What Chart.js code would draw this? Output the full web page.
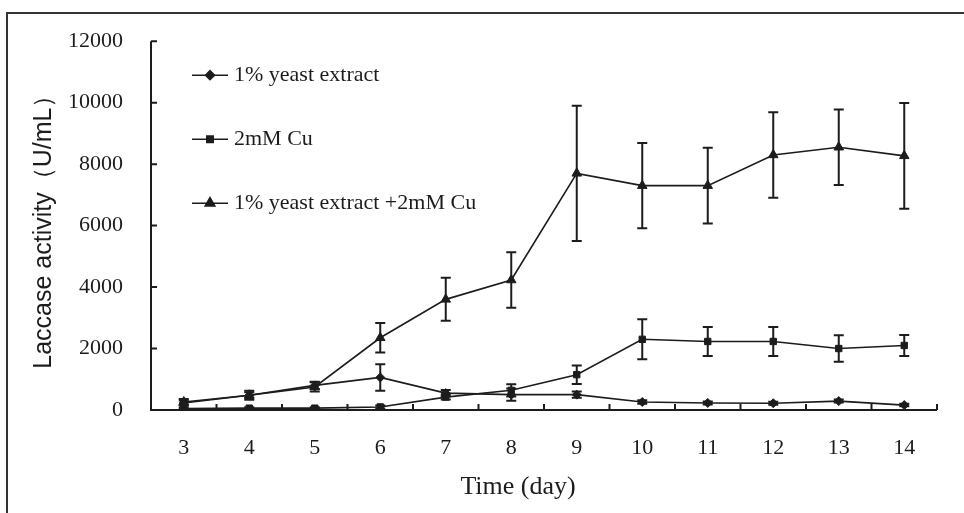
<!DOCTYPE html>
<html>
<head>
<meta charset="utf-8">
<script src="https://cdn.jsdelivr.net/npm/chart.js@4.4.1/dist/chart.umd.min.js"></script>
<style>
  html, body { margin: 0; padding: 0; background: #fff; }
  #wrap { width: 964px; height: 513px; position: relative; }
</style>
</head>
<body>
<div id="wrap"><canvas id="laccaseChart" width="964" height="513"></canvas></div>
<script>
// Days on the x axis
const days = ['3', '4', '5', '6', '7', '8', '9', '10', '11', '12', '13', '14'];

// Laccase activity (U/mL)
const yeastValues = [230, 480, 800, 1060, 550, 500, 500, 260, 230, 220, 290, 160];
const yeastErrors = [80, 100, 120, 430, 100, 200, 100, 60, 50, 50, 50, 40];

const cuValues = [50, 60, 60, 100, 420, 640, 1150, 2300, 2230, 2230, 2000, 2100];
const cuErrors = [30, 30, 30, 50, 80, 200, 300, 650, 470, 470, 430, 340];

const mixValues = [260, 480, 750, 2350, 3600, 4230, 7700, 7300, 7300, 8300, 8550, 8270];
const mixErrors = [100, 150, 150, 480, 700, 900, 2200, 1390, 1230, 1390, 1230, 1720];

const yTicks = [0, 2000, 4000, 6000, 8000, 10000, 12000];

const seriesNames = ['1% yeast extract', '2mM Cu', '1% yeast extract +2mM Cu'];
const seriesErrors = [yeastErrors, cuErrors, mixErrors];

const ink = '#1c1c1c';
const serif = "'Liberation Serif', 'Times New Roman', serif";

// error bars, inner ticks, frame, legend and x title
const extrasPlugin = {
    id: 'extras',
    beforeDraw(chart) {
        const c = chart.ctx;
        c.save();
        c.fillStyle = '#fff';
        c.fillRect(0, 0, chart.width, chart.height);
        // outer frame (top and left edges visible)
        c.strokeStyle = '#333';
        c.lineWidth = 2;
        c.beginPath();
        c.moveTo(7, chart.height);
        c.lineTo(7, 13);
        c.lineTo(chart.width, 13);
        c.stroke();
        c.restore();
    },
    afterDatasetsDraw(chart) {
        const c = chart.ctx;
        const xs = chart.scales.x;
        const ys = chart.scales.y;
        const area = chart.chartArea;
        c.save();
        c.strokeStyle = ink;

        // error bars
        c.lineWidth = 2;
        chart.data.datasets.forEach((ds, di) => {
            const meta = chart.getDatasetMeta(di);
            const errs = seriesErrors[di];
            meta.data.forEach((pt, i) => {
                const v = ds.data[i];
                const e = errs[i];
                const yTop = ys.getPixelForValue(v + e);
                const yBot = ys.getPixelForValue(Math.max(0, v - e));
                c.beginPath();
                c.moveTo(pt.x, yTop);
                c.lineTo(pt.x, yBot);
                c.moveTo(pt.x - 5, yTop);
                c.lineTo(pt.x + 5, yTop);
                c.moveTo(pt.x - 5, yBot);
                c.lineTo(pt.x + 5, yBot);
                c.stroke();
            });
        });

        // axes with inward ticks
        c.lineWidth = 2;
        c.beginPath();
        c.moveTo(area.left, area.top);
        c.lineTo(area.left, area.bottom);
        c.lineTo(area.right, area.bottom);
        yTicks.forEach(t => {
            const y = ys.getPixelForValue(t);
            c.moveTo(area.left, y);
            c.lineTo(area.left + 6, y);
        });
        const step = (area.right - area.left) / days.length;
        for (let i = 1; i <= days.length; i++) {
            const x = area.left + i * step;
            c.moveTo(x, area.bottom);
            c.lineTo(x, area.bottom - 6);
        }
        c.stroke();

        // legend inside the plot
        c.font = '22px ' + serif;
        c.textBaseline = 'middle';
        c.fillStyle = ink;
        chart.data.datasets.forEach((ds, di) => {
            const y = area.top + 34 + di * 64;
            const x0 = area.left + 41;
            c.lineWidth = 1.6;
            c.beginPath();
            c.moveTo(x0, y);
            c.lineTo(x0 + 36, y);
            c.stroke();
            Chart.helpers.drawPoint(c, {
                pointStyle: ds.pointStyle,
                radius: ds.pointRadius,
                borderWidth: 1
            }, x0 + 18, y);
            c.fillText(seriesNames[di], x0 + 42, y);
        });

        // x axis title
        c.textAlign = 'center';
        c.font = '26px ' + serif;
        c.fillText('Time (day)', area.left + (area.right - area.left) * 0.467, 487);
        c.restore();
    }
};

function makeSeries(label, values, style, radius) {
    return {
        label: label,
        data: values,
        borderColor: ink,
        backgroundColor: ink,
        borderWidth: 1.6,
        pointStyle: style,
        pointRadius: radius,
        pointBackgroundColor: ink,
        pointBorderColor: ink,
        pointBorderWidth: 1,
        tension: 0,
        fill: false
    };
}

new Chart(document.getElementById('laccaseChart'), {
    type: 'line',
    data: {
        labels: days,
        datasets: [
            makeSeries(seriesNames[0], yeastValues, 'rectRot', 4.5),
            makeSeries(seriesNames[1], cuValues, 'rect', 4.5),
            makeSeries(seriesNames[2], mixValues, 'triangle', 5.5)
        ]
    },
    options: {
        responsive: false,
        animation: false,
        devicePixelRatio: 1,
        layout: { padding: { top: 38, right: 27, left: 0, bottom: 0 } },
        plugins: {
            legend: { display: false },
            tooltip: { enabled: false }
        },
        scales: {
            x: {
                type: 'category',
                offset: true,
                afterFit: function(scale) { scale.height = 103; },
                grid: { display: false, drawTicks: false },
                border: { display: false },
                ticks: {
                    color: ink,
                    padding: 25,
                    font: { family: serif, size: 22 }
                }
            },
            y: {
                min: 0,
                max: 12000,
                afterFit: function(scale) { scale.width = 151; },
                afterBuildTicks: function(scale) {
                    scale.ticks = yTicks.map(v => ({ value: v }));
                },
                grid: { display: false, drawTicks: false },
                border: { display: false },
                ticks: {
                    color: ink,
                    padding: 28,
                    font: { family: serif, size: 22 },
                    callback: function(value) { return String(value); }
                },
                title: {
                    display: true,
                    text: 'Laccase activity（U/mL）',
                    color: ink,
                    padding: { top: 29, bottom: 0 },
                    font: { family: "'Liberation Sans', Arial, sans-serif", size: 25 }
                }
            }
        }
    },
    plugins: [extrasPlugin]
});
</script>
</body>
</html>
